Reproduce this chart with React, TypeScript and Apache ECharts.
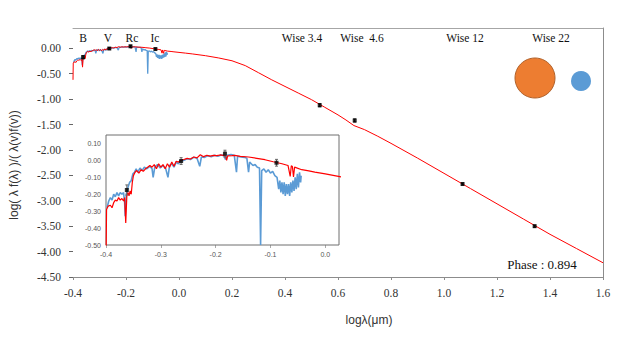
import React, { useEffect, useRef } from "react";
import * as echarts from "echarts";

// Model spectrum (red): [log lambda (um), log normalised flux]
const modelSpectrum: [number, number][] = [
  [-0.4, -0.62], [-0.399, -0.29], [-0.396, -0.27], [-0.392, -0.265], [-0.389, -0.28],
  [-0.386, -0.25], [-0.383, -0.235], [-0.38, -0.24], [-0.377, -0.22], [-0.374, -0.235],
  [-0.371, -0.225], [-0.368, -0.24], [-0.366, -0.22], [-0.364, -0.37], [-0.362, -0.21],
  [-0.36, -0.19], [-0.358, -0.21], [-0.356, -0.18], [-0.354, -0.2], [-0.352, -0.13],
  [-0.35, -0.09], [-0.347, -0.07], [-0.344, -0.06], [-0.34, -0.075], [-0.336, -0.055],
  [-0.332, -0.065], [-0.328, -0.05], [-0.324, -0.04], [-0.32, -0.03], [-0.316, -0.04],
  [-0.312, -0.025], [-0.308, -0.05], [-0.304, -0.02], [-0.3, -0.04], [-0.296, -0.025],
  [-0.292, -0.05], [-0.288, -0.02], [-0.284, -0.04], [-0.28, -0.01], [-0.276, -0.035],
  [-0.272, -0.005], [-0.268, -0.01], [-0.264, 0.0], [-0.258, 0.005], [-0.252, 0.012],
  [-0.246, 0.008], [-0.24, 0.02], [-0.234, 0.015], [-0.228, 0.033], [-0.222, 0.022],
  [-0.216, 0.03], [-0.21, 0.025], [-0.204, 0.03], [-0.198, 0.028], [-0.192, 0.032],
  [-0.186, 0.03], [-0.182, 0.028], [-0.18, 0.0], [-0.178, 0.027], [-0.17, 0.028],
  [-0.165, 0.03], [-0.155, 0.024], [-0.14, 0.02], [-0.125, 0.012], [-0.11, 0.004],
  [-0.095, -0.008], [-0.079, -0.02], [-0.068, -0.03], [-0.064, -0.095], [-0.062, -0.032],
  [-0.06, -0.036], [-0.058, -0.098], [-0.056, -0.04], [-0.043, -0.055], [-0.03, -0.062],
  [-0.019, -0.069], [0.0, -0.08], [0.024, -0.094], [0.05, -0.11], [0.1, -0.145],
  [0.15, -0.19], [0.2, -0.245], [0.25, -0.34], [0.3, -0.48], [0.35, -0.62],
  [0.4, -0.75], [0.45, -0.88], [0.5, -1.01], [0.55, -1.16], [0.6, -1.31],
  [0.63, -1.41], [0.66, -1.52], [0.7, -1.6], [0.75, -1.73], [0.8, -1.87],
  [0.9, -2.16], [1.0, -2.46], [1.1, -2.76], [1.2, -3.06], [1.3, -3.36],
  [1.4, -3.66], [1.5, -3.94], [1.6, -4.22],
];

// Observed spectrum (blue)
const observedSpectrum: [number, number][] = [
  [-0.398, -0.28], [-0.395, -0.24], [-0.392, -0.22], [-0.389, -0.235], [-0.386, -0.2],
  [-0.383, -0.215], [-0.38, -0.19], [-0.377, -0.21], [-0.374, -0.19], [-0.371, -0.2],
  [-0.368, -0.19], [-0.366, -0.25], [-0.365, -0.33], [-0.363, -0.2], [-0.36, -0.16],
  [-0.357, -0.13], [-0.354, -0.12], [-0.351, -0.08], [-0.348, -0.07], [-0.345, -0.05],
  [-0.342, -0.07], [-0.338, -0.045], [-0.334, -0.06], [-0.33, -0.04], [-0.326, -0.05],
  [-0.32, -0.035], [-0.316, -0.05], [-0.314, -0.1], [-0.311, -0.04], [-0.306, -0.025],
  [-0.301, -0.045], [-0.296, -0.03], [-0.291, -0.05], [-0.287, -0.1], [-0.284, -0.03],
  [-0.28, -0.02], [-0.276, -0.04], [-0.272, -0.01], [-0.268, -0.02], [-0.264, 0.0],
  [-0.258, 0.0], [-0.252, 0.01], [-0.246, 0.005], [-0.24, 0.018], [-0.234, 0.012],
  [-0.229, -0.035], [-0.226, 0.02], [-0.22, 0.018], [-0.214, 0.028], [-0.208, 0.022],
  [-0.202, 0.03], [-0.196, 0.025], [-0.19, 0.032], [-0.185, 0.028], [-0.182, 0.005],
  [-0.179, 0.03], [-0.172, 0.035], [-0.166, 0.03], [-0.162, -0.07], [-0.16, 0.025],
  [-0.154, 0.02], [-0.147, 0.018], [-0.143, 0.012], [-0.14, -0.07], [-0.138, -0.01],
  [-0.135, -0.02], [-0.132, -0.03], [-0.128, -0.025], [-0.124, -0.04], [-0.12, -0.045],
  [-0.118, -0.5], [-0.116, -0.06], [-0.112, -0.05], [-0.108, -0.07], [-0.104, -0.055],
  [-0.1, -0.075], [-0.096, -0.065], [-0.092, -0.09], [-0.088, -0.1], [-0.085, -0.17],
  [-0.083, -0.12], [-0.081, -0.19], [-0.079, -0.13], [-0.077, -0.2], [-0.075, -0.13],
  [-0.073, -0.21], [-0.071, -0.14], [-0.069, -0.2], [-0.067, -0.14], [-0.065, -0.21],
  [-0.063, -0.13], [-0.061, -0.19], [-0.059, -0.12], [-0.057, -0.18], [-0.055, -0.1],
  [-0.053, -0.17], [-0.051, -0.08], [-0.049, -0.16], [-0.047, -0.07], [-0.045, -0.13],
  [-0.044, -0.09],
];

// Photometry
const photLogLambda = [-0.362, -0.263, -0.183, -0.089, 0.531, 0.663, 1.07, 1.342];
const photFlux = [-0.175, -0.004, 0.04, -0.014, -1.12, -1.42, -2.67, -3.5];
const photErr = [0.03, 0.02, 0.02, 0.02, 0.03, 0.03, 0.02, 0.02];
const bandNames = ["B", "V", "Rc", "Ic", "Wise 3.4", "Wise  4.6", "Wise 12", "Wise 22"];

const mainYTicks = [-4.5, -4, -3.5, -3, -2.5, -2, -1.5, -1, -0.5, 0];
const mainXTicks = [-0.4, -0.2, 0, 0.2, 0.4, 0.6, 0.8, 1.0, 1.2, 1.4, 1.6];
const insetXTicks = [-0.4, -0.3, -0.2, -0.1, 0];
const insetYTicks = [-0.5, -0.4, -0.3, -0.2, -0.1, 0, 0.1];
const phaseText = "Phase : 0.894";
const xTitle = "logλ(μm)";
const yTitle = "log( λ f(λ) )/( λ(v)f(v))";

const SERIF = '"Liberation Serif", "Times New Roman", serif';
const SANS = '"Liberation Sans", Arial, sans-serif';

export default function App() {
  const ref = useRef<HTMLDivElement>(null);
  useEffect(() => {
    if (!ref.current) return;
    const chart = echarts.init(ref.current, undefined, { renderer: "svg" });

    const phot = photLogLambda.map((x, i) => [x, photFlux[i]]);
    const err = photLogLambda.map((x, i) => [x, photFlux[i] - photErr[i], photFlux[i] + photErr[i]]);
    const photInset = phot.filter((p) => p[0] < 0.03);
    const errInset = err.filter((p) => p[0] < 0.03);

    const errRender = (color: string, cap: number) => (params: any, api: any) => {
      const x = api.value(0);
      const p1 = api.coord([x, api.value(1)]);
      const p2 = api.coord([x, api.value(2)]);
      const st = { stroke: color, lineWidth: 1 };
      return {
        type: "group",
        children: [
          { type: "line", shape: { x1: p1[0], y1: p1[1], x2: p2[0], y2: p2[1] }, style: st },
          { type: "line", shape: { x1: p1[0] - cap, y1: p1[1], x2: p1[0] + cap, y2: p1[1] }, style: st },
          { type: "line", shape: { x1: p2[0] - cap, y1: p2[1], x2: p2[0] + cap, y2: p2[1] }, style: st },
        ],
      };
    };

    const bandX = [83, 108, 132, 155, 302, 362, 465, 551];

    const option: any = {
      animation: false,
      backgroundColor: "#fff",
      grid: [
        { left: 73, right: 20, top: 28, bottom: 62, show: false },
        {
          left: 106, right: 284, top: 135, bottom: 94, show: true,
          backgroundColor: "#fff", borderColor: "#6e6e6e", borderWidth: 1, z: 5,
        },
      ],
      xAxis: [
        {
          type: "value", gridIndex: 0, min: -0.4, max: 1.6, interval: 0.2,
          axisLine: { show: true, onZero: false, lineStyle: { color: "#8c8c8c" } },
          axisTick: { show: true, length: 3, lineStyle: { color: "#8c8c8c" }, customValues: mainXTicks },
          axisLabel: {
            customValues: mainXTicks, formatter: (v: number) => v.toFixed(1),
            fontFamily: SERIF, fontSize: 11.5, color: "#333", margin: 10,
          },
          splitLine: { show: false },
        },
        {
          type: "value", gridIndex: 0, position: "top", min: -0.4, max: 1.6,
          axisLine: { show: true, onZero: false, lineStyle: { color: "#a6a6a6" } },
          axisTick: { show: false }, axisLabel: { show: false }, splitLine: { show: false },
        },
        {
          type: "value", gridIndex: 1, min: -0.4, max: 0.025, interval: 0.1,
          axisLine: { show: false, onZero: false },
          axisTick: { show: true, length: 3, lineStyle: { color: "#aaa" }, customValues: insetXTicks },
          axisLabel: {
            customValues: insetXTicks, formatter: (v: number) => v.toFixed(1),
            fontFamily: SANS, fontSize: 7, color: "#555", margin: 6,
          },
          splitLine: { show: false },
        },
      ],
      yAxis: [
        {
          type: "value", gridIndex: 0, min: -4.5, max: 0.4, interval: 0.5,
          axisLine: { show: false, onZero: false },
          axisTick: { show: true, length: 4, lineStyle: { color: "#666" }, customValues: mainYTicks },
          axisLabel: {
            customValues: mainYTicks, formatter: (v: number) => v.toFixed(2),
            fontFamily: SERIF, fontSize: 11.5, color: "#333", margin: 12,
          },
          splitLine: { show: false },
        },
        {
          type: "value", gridIndex: 0, position: "right", min: -4.5, max: 0.4,
          axisLine: { show: true, onZero: false, lineStyle: { color: "#8c8c8c" } },
          axisTick: { show: false }, axisLabel: { show: false }, splitLine: { show: false },
        },
        {
          type: "value", gridIndex: 1, min: -0.5, max: 0.15, interval: 0.1,
          axisLine: { show: false, onZero: false },
          axisTick: { show: false },
          axisLabel: {
            customValues: insetYTicks, formatter: (v: number) => v.toFixed(2),
            fontFamily: SANS, fontSize: 7, color: "#555", margin: 5,
          },
          splitLine: { show: false },
        },
      ],
      series: [
        {
          type: "line", xAxisIndex: 0, yAxisIndex: 0, data: observedSpectrum, showSymbol: false,
          lineStyle: { color: "#5B9BD5", width: 1.3 }, z: 2,
        },
        {
          type: "line", xAxisIndex: 0, yAxisIndex: 0, data: modelSpectrum, showSymbol: false,
          lineStyle: { color: "#FF0000", width: 1 }, z: 3,
        },
        {
          type: "custom", xAxisIndex: 0, yAxisIndex: 0, data: err,
          renderItem: errRender("#111", 1.5), z: 4,
        },
        {
          type: "scatter", xAxisIndex: 0, yAxisIndex: 0, data: phot, symbol: "rect", symbolSize: 4,
          itemStyle: { color: "#000" }, z: 4,
        },
        {
          type: "line", xAxisIndex: 2, yAxisIndex: 2, data: observedSpectrum, showSymbol: false,
          lineStyle: { color: "#5B9BD5", width: 1.6 }, z: 6, clip: true,
        },
        {
          type: "line", xAxisIndex: 2, yAxisIndex: 2, data: modelSpectrum, showSymbol: false,
          lineStyle: { color: "#FF0000", width: 1.2 }, z: 7, clip: true,
        },
        {
          type: "custom", xAxisIndex: 2, yAxisIndex: 2, data: errInset,
          renderItem: errRender("#666", 1.5), z: 8, clip: true,
        },
        {
          type: "scatter", xAxisIndex: 2, yAxisIndex: 2, data: photInset, symbol: "rect", symbolSize: 4,
          itemStyle: { color: "#000" }, z: 8, clip: true,
        },
      ],
      graphic: [
        ...bandNames.map((name, i) => ({
          type: "text", x: bandX[i], y: 38,
          style: {
            text: name, font: `11.5px ${SERIF}`, fill: "#111",
            textAlign: "center", textVerticalAlign: "middle",
          },
        })),
        {
          type: "circle", shape: { cx: 535, cy: 78, r: 20 },
          style: { fill: "#ED7D31", stroke: "#B0612A", lineWidth: 1 },
        },
        {
          type: "circle", shape: { cx: 581, cy: 81, r: 10 },
          style: { fill: "#5B9BD5" },
        },
        {
          type: "text", x: 542, y: 264,
          style: {
            text: phaseText, font: `13px ${SERIF}`, fill: "#111",
            textAlign: "center", textVerticalAlign: "middle",
          },
        },
        {
          type: "text", x: 369, y: 320,
          style: {
            text: xTitle, font: `12px ${SANS}`, fill: "#333",
            textAlign: "center", textVerticalAlign: "middle",
          },
        },
        {
          type: "text", x: 14, y: 165, rotation: Math.PI / 2,
          style: {
            text: yTitle, font: `12px ${SANS}`, fill: "#333",
            textAlign: "center", textVerticalAlign: "middle",
          },
        },
      ],
    };

    chart.setOption(option);
    return () => chart.dispose();
  }, []);

  return <div ref={ref} style={{ width: 623, height: 339, position: "fixed", left: 0, top: 0 }} />;
}
